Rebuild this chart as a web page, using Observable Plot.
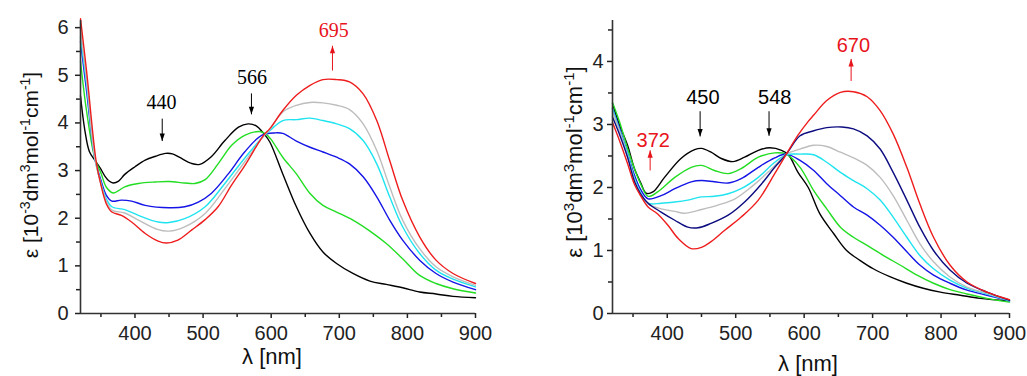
<!DOCTYPE html>
<html><head><meta charset="utf-8">
<script src="https://cdn.jsdelivr.net/npm/d3@7"></script>
<script src="https://cdn.jsdelivr.net/npm/@observablehq/plot@0.6"></script>
<style>
body{margin:0;background:#fff;}
#wrap{display:flex;width:1027px;height:376px;background:#fff;}
</style></head><body><div id="wrap"></div>
<script>
// ---------- data ----------
const xMajor = [400, 500, 600, 700, 800, 900];
const xMinor = [350, 450, 550, 650, 750, 850];
const yMajorLeft = [0, 1, 2, 3, 4, 5, 6];
const yMinorLeft = [0.5, 1.5, 2.5, 3.5, 4.5, 5.5];
const yMajorRight = [0, 1, 2, 3, 4];
const yMinorRight = [0.5, 1.5, 2.5, 3.5, 4.5];

const leftNames = ["s_black", "s_green", "s_blue", "s_cyan", "s_gray", "s_red"];
const rightNames = ["s_black", "s_green", "s_blue", "s_cyan", "s_gray", "s_navy", "s_red"];
const seriesColors = {s_black:"#000000", s_green:"#22dd22", s_blue:"#1414e6", s_cyan:"#1fe4f0", s_gray:"#bdbdbd", s_navy:"#0c0c80", s_red:"#ee1c1c"};

const leftBlack = [[320,4.57],[326,3.88],[333,3.40],[341,3.22],[349,3.05],[356,2.88],[362,2.78],[368,2.74],[376,2.78],[385,2.92],[400,3.08],[415,3.22],[430,3.30],[445,3.36],[455,3.35],[465,3.28],[483,3.15],[495,3.13],[512,3.29],[532,3.63],[552,3.91],[566,3.98],[578,3.94],[590,3.76],[598,3.60],[617,2.93],[637,2.24],[657,1.68],[676,1.29],[696,1.05],[720,0.84],[745,0.68],[769,0.61],[793,0.54],[818,0.45],[842,0.41],[867,0.36],[900,0.33]];
const leftGreen = [[320,5.29],[329,4.24],[341,3.26],[350,2.95],[358,2.65],[368,2.53],[376,2.58],[385,2.66],[405,2.73],[430,2.76],[450,2.77],[473,2.74],[488,2.73],[503,2.81],[522,3.14],[542,3.53],[561,3.74],[583,3.82],[592,3.77],[600,3.65],[617,3.28],[637,2.93],[657,2.52],[676,2.27],[696,2.13],[720,1.96],[745,1.73],[769,1.47],[793,1.15],[818,0.80],[842,0.63],[867,0.52],[900,0.43]];
const leftBlue = [[320,5.71],[329,4.66],[341,3.26],[350,2.80],[358,2.48],[366,2.36],[380,2.38],[395,2.36],[415,2.27],[450,2.22],[473,2.24],[493,2.34],[512,2.52],[537,2.93],[561,3.39],[586,3.74],[605,3.79],[617,3.78],[637,3.62],[657,3.49],[676,3.39],[696,3.28],[715,3.14],[735,2.87],[755,2.45],[774,1.96],[793,1.54],[818,1.12],[842,0.84],[867,0.66],[900,0.50]];
const leftCyan = [[320,5.80],[329,4.80],[341,3.26],[350,2.75],[358,2.40],[366,2.24],[385,2.18],[405,2.06],[434,1.92],[450,1.91],[473,1.99],[503,2.24],[532,2.73],[561,3.26],[590,3.74],[598,3.84],[617,4.05],[637,4.07],[657,4.10],[676,4.05],[696,3.98],[715,3.88],[735,3.63],[755,3.14],[774,2.45],[793,1.82],[818,1.26],[842,0.91],[867,0.72],[900,0.56]];
const leftGray = [[320,5.95],[329,4.90],[341,3.26],[350,2.72],[358,2.35],[366,2.17],[385,2.11],[405,1.96],[434,1.76],[450,1.73],[473,1.82],[503,2.10],[532,2.62],[561,3.18],[590,3.74],[598,3.86],[617,4.23],[637,4.37],[657,4.43],[676,4.42],[696,4.37],[715,4.28],[735,3.98],[755,3.42],[774,2.66],[793,1.96],[818,1.36],[842,0.98],[867,0.77],[900,0.59]];
const leftRed = [[320,6.19],[329,5.08],[343,3.19],[350,2.70],[358,2.30],[366,2.13],[380,2.06],[395,1.92],[415,1.68],[434,1.52],[446,1.48],[463,1.54],[483,1.75],[503,1.97],[522,2.24],[542,2.70],[561,3.10],[583,3.62],[590,3.76],[598,3.88],[617,4.26],[637,4.58],[657,4.79],[676,4.91],[696,4.91],[715,4.86],[735,4.61],[755,4.05],[774,3.21],[793,2.38],[818,1.61],[842,1.12],[867,0.84],[900,0.63]];

const rightBlack = [[320,3.33],[330,3.00],[342,2.67],[352,2.30],[361,2.08],[369,1.91],[379,1.93],[396,2.16],[420,2.46],[440,2.60],[450,2.62],[464,2.56],[479,2.46],[496,2.41],[513,2.48],[533,2.59],[550,2.63],[567,2.59],[577,2.52],[591,2.24],[606,2.00],[623,1.58],[643,1.27],[662,1.00],[682,0.84],[701,0.71],[726,0.58],[750,0.48],[774,0.40],[799,0.34],[828,0.29],[857,0.24],[900,0.20]];
const rightGreen = [[320,3.35],[330,3.05],[342,2.62],[352,2.30],[361,2.06],[372,1.86],[386,1.93],[411,2.16],[435,2.32],[450,2.35],[469,2.27],[489,2.22],[508,2.30],[533,2.48],[557,2.55],[574,2.53],[594,2.32],[614,1.95],[633,1.66],[653,1.37],[672,1.21],[692,1.08],[716,0.92],[740,0.77],[765,0.61],[789,0.48],[813,0.38],[838,0.31],[867,0.24],[900,0.18]];
const rightBlue = [[320,3.25],[330,2.95],[342,2.54],[352,2.20],[361,1.97],[372,1.82],[391,1.87],[411,1.98],[435,2.09],[450,2.11],[469,2.09],[489,2.07],[508,2.14],[533,2.32],[557,2.47],[574,2.53],[594,2.43],[614,2.27],[633,2.06],[653,1.87],[672,1.69],[692,1.56],[711,1.40],[730,1.21],[750,0.98],[769,0.77],[789,0.61],[813,0.48],[838,0.37],[867,0.29],[900,0.20]];
const rightCyan = [[320,3.25],[330,2.92],[342,2.54],[352,2.15],[361,1.92],[372,1.75],[391,1.75],[411,1.77],[430,1.80],[450,1.85],[469,1.86],[489,1.90],[508,1.98],[533,2.16],[557,2.40],[574,2.52],[594,2.53],[614,2.52],[633,2.40],[653,2.24],[672,2.11],[692,1.98],[711,1.80],[730,1.53],[750,1.21],[769,0.92],[789,0.71],[813,0.53],[838,0.40],[867,0.31],[900,0.20]];
const rightGray = [[320,3.20],[330,2.90],[342,2.50],[352,2.12],[361,1.90],[372,1.74],[391,1.66],[411,1.62],[425,1.59],[450,1.65],[474,1.72],[499,1.82],[523,2.01],[547,2.24],[567,2.46],[574,2.53],[594,2.61],[614,2.67],[633,2.65],[653,2.56],[672,2.47],[692,2.35],[711,2.16],[730,1.87],[750,1.48],[769,1.11],[789,0.82],[813,0.58],[838,0.42],[867,0.32],[900,0.21]];
const rightNavy = [[320,3.12],[330,2.85],[342,2.48],[352,2.10],[361,1.90],[372,1.75],[391,1.61],[411,1.48],[430,1.37],[445,1.36],[464,1.43],[489,1.56],[513,1.77],[538,2.06],[557,2.32],[574,2.53],[594,2.82],[614,2.90],[633,2.95],[655,2.96],[672,2.93],[692,2.82],[711,2.61],[730,2.24],[750,1.80],[769,1.37],[789,1.00],[813,0.69],[838,0.48],[867,0.34],[900,0.21]];
const rightRed = [[320,3.03],[330,2.75],[342,2.38],[352,2.05],[361,1.87],[372,1.69],[386,1.58],[401,1.40],[416,1.19],[435,1.03],[450,1.05],[464,1.14],[484,1.32],[508,1.53],[533,1.80],[557,2.22],[574,2.53],[591,2.83],[606,3.05],[614,3.15],[633,3.38],[653,3.51],[672,3.52],[692,3.44],[711,3.22],[730,2.85],[750,2.32],[769,1.74],[789,1.21],[813,0.77],[838,0.50],[867,0.34],[900,0.22]];

const leftNotes = [
  {label:"440", x:439, y:4.30, color:"#000"},
  {label:"566", x:572, y:4.81, color:"#000"},
  {label:"695", x:692, y:5.80, color:"#e8141c"}
];
const leftArrows = [
  {x:440, from:4.09, to:3.62, dir:"down", color:"#000"},
  {x:571, from:4.62, to:4.18, dir:"down", color:"#000"},
  {x:690, from:5.10, to:5.62, dir:"up", color:"#e8141c"}
];
const rightNotes = [
  {label:"450", x:452, y:3.33, color:"#000"},
  {label:"548", x:557, y:3.33, color:"#000"},
  {label:"372", x:379.5, y:2.65, color:"#e8141c"},
  {label:"670", x:672, y:4.15, color:"#e8141c"}
];
const rightArrows = [
  {x:448, from:3.21, to:2.81, dir:"down", color:"#000"},
  {x:548.7, from:3.21, to:2.82, dir:"down", color:"#000"},
  {x:375, from:2.27, to:2.59, dir:"up", color:"#e8141c"},
  {x:668.6, from:3.69, to:4.04, dir:"up", color:"#e8141c"}
];

// ---------- helpers ----------
function rows(names, arrays) {
  return names.flatMap((n, i) => arrays[i].map(([x, y]) => ({series: n, x, y})));
}
const headUp = {draw(ctx) { ctx.moveTo(0, 0); ctx.lineTo(-2.6, 7.5); ctx.lineTo(2.6, 7.5); ctx.closePath(); }};
const headDown = {draw(ctx) { ctx.moveTo(0, 0); ctx.lineTo(-2.6, -7.5); ctx.lineTo(2.6, -7.5); ctx.closePath(); }};
const SANS = "'Liberation Sans', Arial, Helvetica, sans-serif";
const SERIF = "'Liberation Serif', 'Times New Roman', serif";

function panel(cfg) {
  const data = rows(cfg.names, cfg.arrays);
  const svg = Plot.plot({
    width: cfg.width, height: 376,
    marginLeft: cfg.ml, marginRight: cfg.mr, marginTop: 20, marginBottom: 63,
    style: {fontFamily: SANS, background: "#fff", color: "#222"},
    x: {domain: [320, 900]},
    y: {domain: [0, cfg.ymax]},
    marks: [
      Plot.axisX(xMajor, {tickSize: 5, tickPadding: 7, fontSize: 20, label: null, strokeWidth: 1.5, tickFormat: d => String(d)}),
      Plot.axisX(xMinor, {tickSize: 4, tickFormat: () => "", label: null, strokeWidth: 1.5}),
      Plot.axisY(cfg.yMajor, {tickSize: 5, tickPadding: cfg.ypad, fontSize: 20, label: null, strokeWidth: 1.5, tickFormat: d => String(d)}),
      Plot.axisY(cfg.yMinor, {tickSize: 4, tickFormat: () => "", label: null, strokeWidth: 1.5}),
      Plot.line(data, {x: "x", y: "y", z: "series", stroke: d => seriesColors[d.series], strokeWidth: 1.4, curve: "catmull-rom"}),
      Plot.ruleX([320], {stroke: "#333", strokeWidth: 1.6}),
      Plot.ruleY([0], {stroke: "#333", strokeWidth: 1.6}),
      Plot.link(cfg.arrows, {x1: "x", x2: "x", y1: "from", y2: "to", stroke: "color", strokeWidth: 1}),
      Plot.dot(cfg.arrows.filter(a => a.dir === "up"), {x: "x", y: "to", symbol: headUp, fill: "color", stroke: null}),
      Plot.dot(cfg.arrows.filter(a => a.dir === "down"), {x: "x", y: "to", symbol: headDown, fill: "color", stroke: null}),
      Plot.text(cfg.notes, {x: "x", y: "y", text: "label", fill: "color", fontSize: 20, fontFamily: cfg.noteFont, textAnchor: "middle", lineAnchor: "bottom"})
    ]
  });
  const s = d3.select(svg);
  // y label
  const yl = s.append("text")
    .attr("transform", `translate(${cfg.ylx},${cfg.yly}) rotate(-90)`)
    .attr("text-anchor", "middle").attr("font-size", cfg.ylSize).attr("font-family", SANS).attr("fill", "#111");
  cfg.ylParts.forEach(([t, sup]) => {
    yl.append("tspan").text(t)
      .attr("font-size", sup === 1 ? Math.round(cfg.ylSize * 0.68) : cfg.ylSize)
      .attr("dy", sup === 1 ? -8 : sup === -1 ? 8 : 0);
  });
  // x label
  s.append("text").attr("x", cfg.xlx).attr("y", cfg.xly).attr("text-anchor", "middle")
    .attr("font-size", 22).attr("font-family", SANS).attr("fill", "#111").text("λ [nm]");
  return svg;
}

const wrap = document.getElementById("wrap");
wrap.appendChild(panel({
  width: 513, ml: 80, mr: 38, ymax: 6.15, names: leftNames,
  arrays: [leftBlack, leftGreen, leftBlue, leftCyan, leftGray, leftRed],
  yMajor: yMajorLeft, yMinor: yMinorLeft, ypad: 7,
  notes: leftNotes, arrows: leftArrows, noteFont: SERIF,
  ylx: 38, yly: 165, ylSize: 21,
  ylParts: [["ε [10",0],["-3",1],["dm",-1],["3",1],["mol",-1],["-1",1],["cm",-1],["-1",1],["]",-1]],
  xlx: 272, xly: 364
}));
wrap.appendChild(panel({
  width: 514, ml: 99, mr: 18, ymax: 4.65, names: rightNames,
  arrays: [rightBlack, rightGreen, rightBlue, rightCyan, rightGray, rightNavy, rightRed],
  yMajor: yMajorRight, yMinor: yMinorRight, ypad: 4,
  notes: rightNotes, arrows: rightArrows, noteFont: SANS,
  ylx: 69, yly: 162, ylSize: 22,
  ylParts: [["ε [10",0],["3",1],["dm",-1],["3",1],["mol",-1],["-1",1],["cm",-1],["-1",1],["]",-1]],
  xlx: 295, xly: 371
}));
</script>
</body></html>
